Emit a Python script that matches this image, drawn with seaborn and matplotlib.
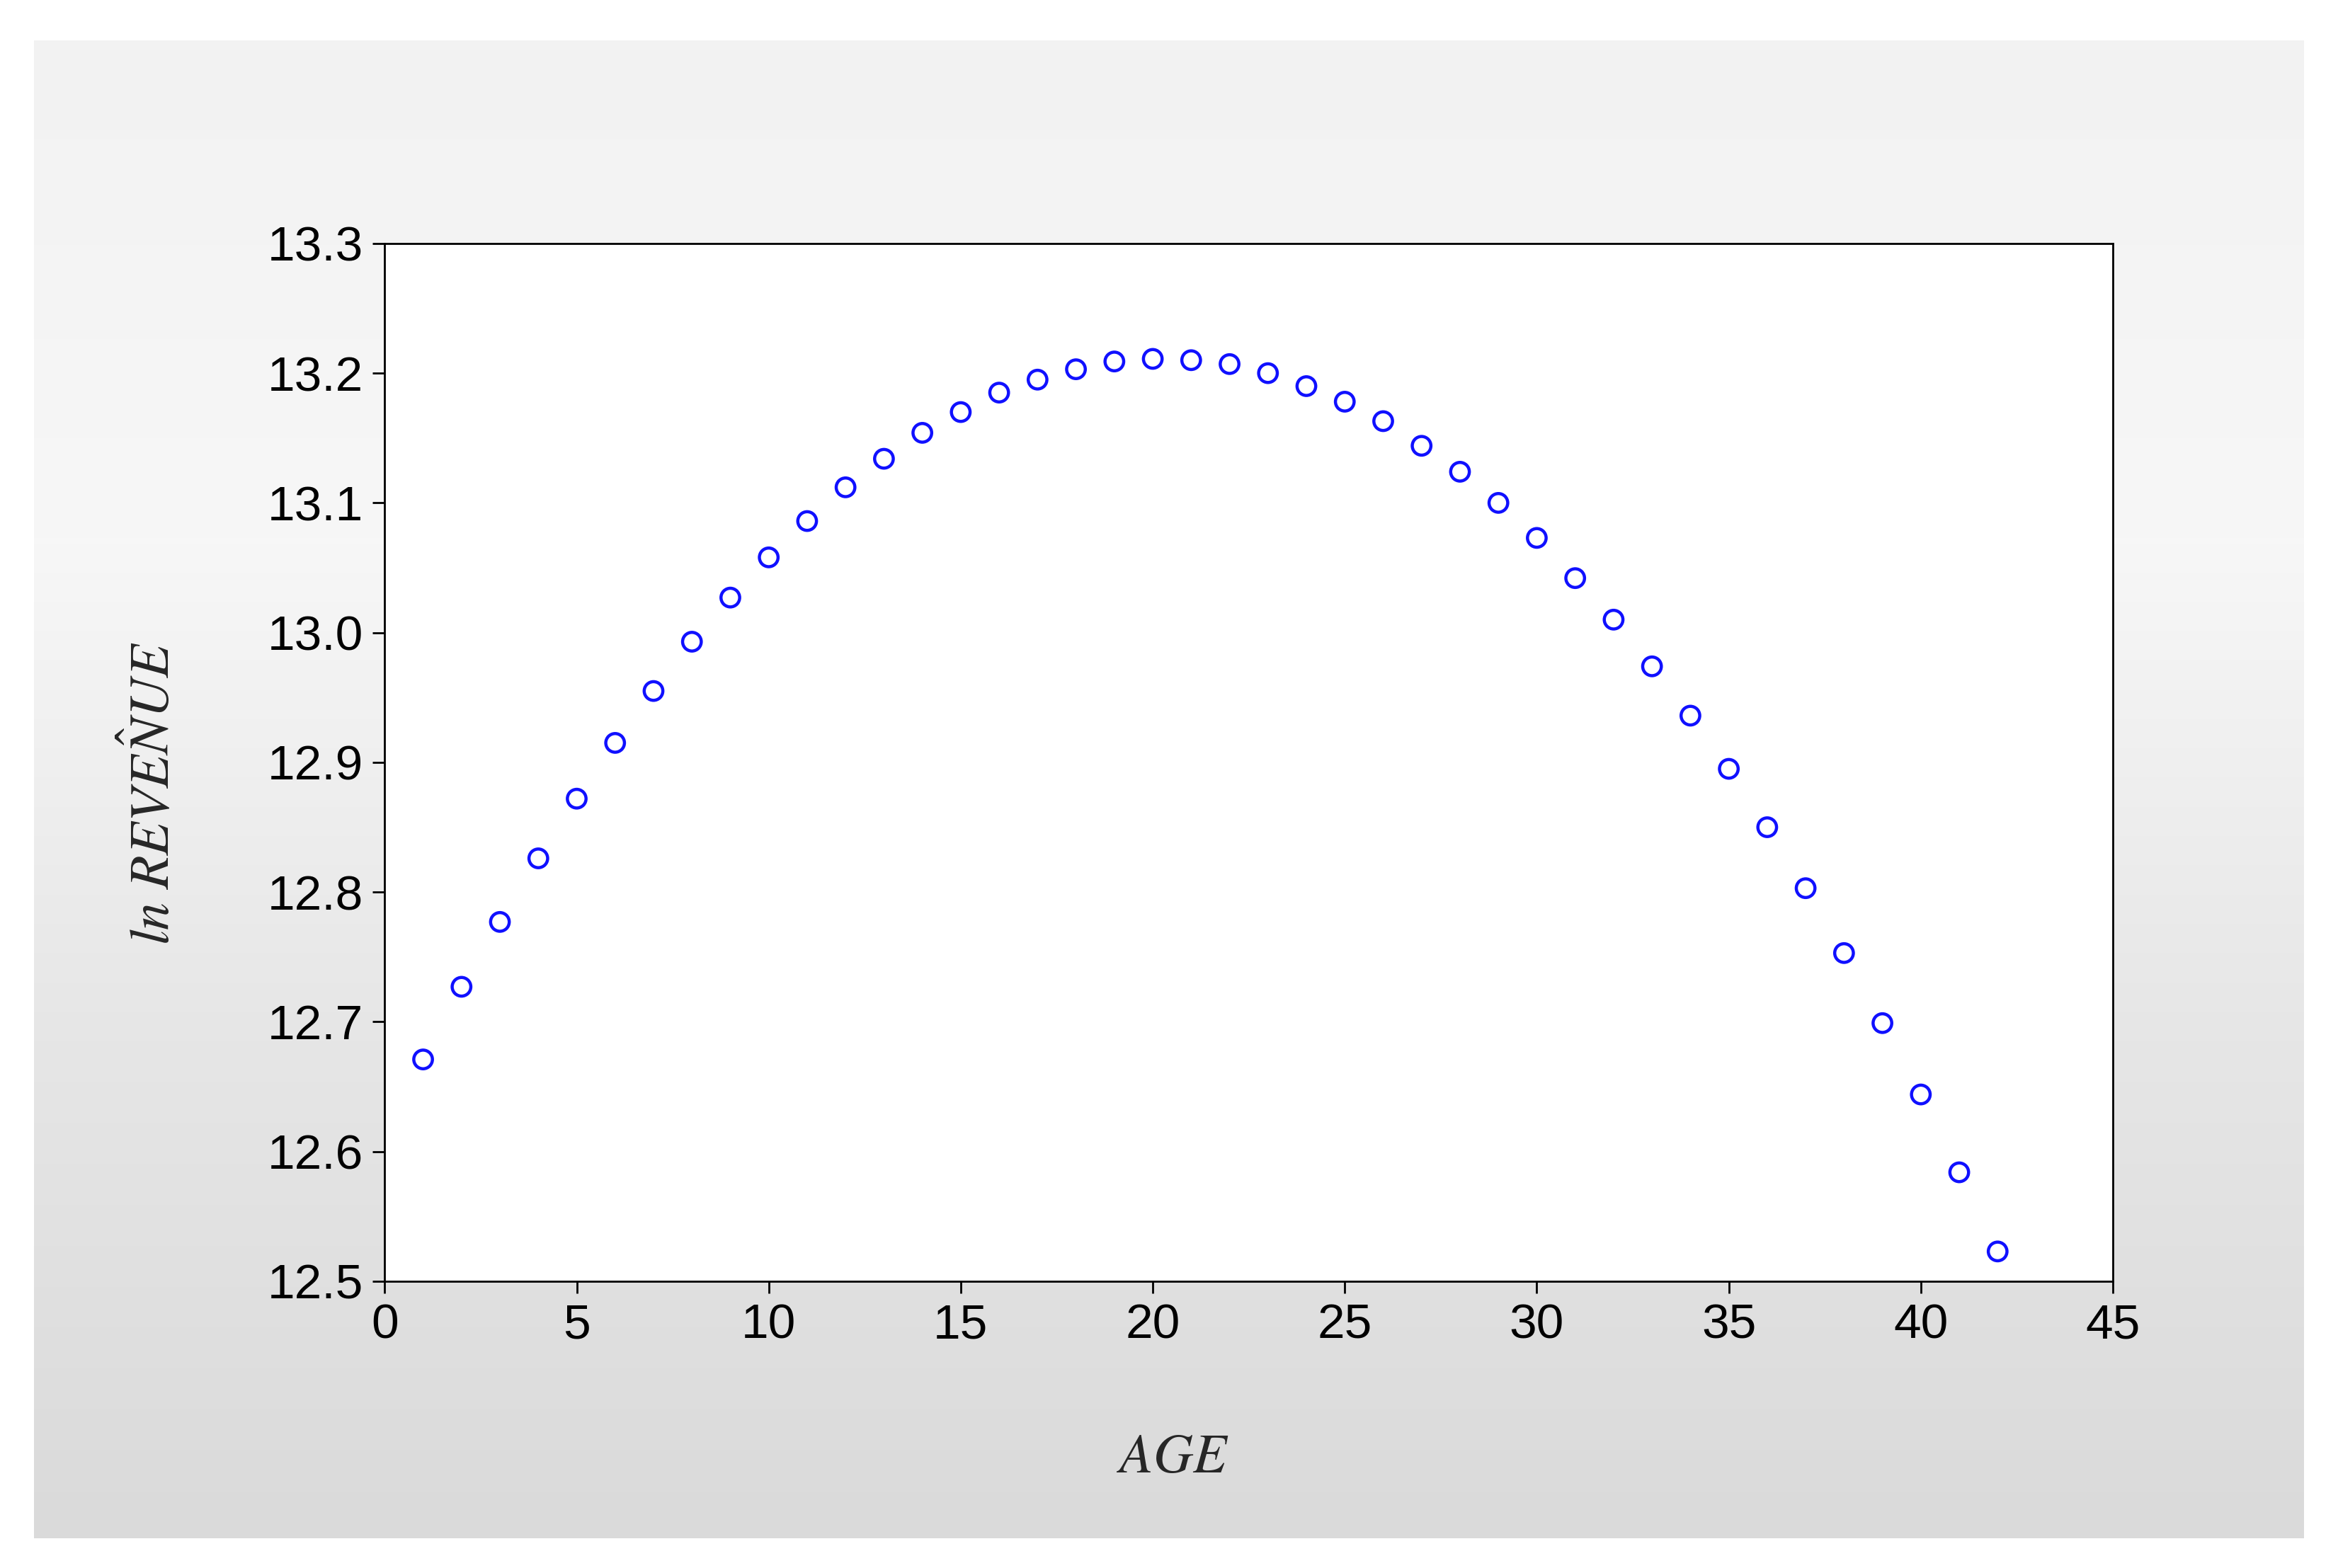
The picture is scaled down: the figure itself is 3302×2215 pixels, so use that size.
import numpy as np
import pandas as pd
import seaborn as sns
import matplotlib.pyplot as plt

age = list(range(1, 43))
ln_revenue = [12.671, 12.727, 12.777, 12.826, 12.872, 12.915, 12.955, 12.993, 13.027, 13.058,
              13.086, 13.112, 13.134, 13.154, 13.170, 13.185, 13.195, 13.203, 13.209, 13.211,
              13.210, 13.207, 13.200, 13.190, 13.178, 13.163, 13.144, 13.124, 13.100, 13.073,
              13.042, 13.010, 12.974, 12.936, 12.895, 12.850, 12.803, 12.753, 12.699, 12.644,
              12.584, 12.523]
x_ticks = [0, 5, 10, 15, 20, 25, 30, 35, 40, 45]
y_ticks = [12.5, 12.6, 12.7, 12.8, 12.9, 13.0, 13.1, 13.2, 13.3]

df = pd.DataFrame({'AGE': age, 'lnrev': ln_revenue})

sns.set_style('white')
plt.rcParams['font.family'] = ['Liberation Sans', 'DejaVu Sans']
plt.rcParams['mathtext.fontset'] = 'stix'

fig = plt.figure(figsize=(16.51, 11.075), dpi=200, facecolor='white')

# gray gradient background panel
bg = fig.add_axes([23/1568, 1-1030/1050, (1545-23)/1568, (1030-27)/1050])
grad = np.linspace(0, 1, 256).reshape(-1, 1)
bg.imshow(grad, aspect='auto', cmap=plt.cm.colors.LinearSegmentedColormap.from_list(
    'g', ['#f2f2f2', '#f7f7f7', '#e6e6e6', '#dadada']), extent=[0, 1, 0, 1])
bg.axis('off')

ax = fig.add_axes([258/1568, 1-858/1050, (1417-258)/1568, (858-163)/1050])
ax.set_facecolor('white')
sns.scatterplot(data=df, x='AGE', y='lnrev', ax=ax, marker='o', s=90,
                facecolors='none', edgecolor='#1010ff', linewidth=1.6)
ax.set_xlim(0, 45)
ax.set_ylim(12.5, 13.3)
ax.set_xticks(x_ticks)
ax.set_yticks(y_ticks)
ax.set_yticklabels([f'{v:.1f}' for v in y_ticks])
ax.tick_params(direction='out', length=6, width=1, labelsize=25, colors='black', pad=5,
               bottom=True, left=True)
for sp in ax.spines.values():
    sp.set_color('black')
    sp.set_linewidth(1)
ax.set_xlabel(r'$AGE$', fontsize=28)
ax.xaxis.set_label_coords(0.456, -0.145)
ax.set_ylabel(r'$ln\ \hat{REVENUE}$', fontsize=28)
ax.yaxis.set_label_coords(-0.118, 0.47)

fig.savefig('out.png', dpi=200)
